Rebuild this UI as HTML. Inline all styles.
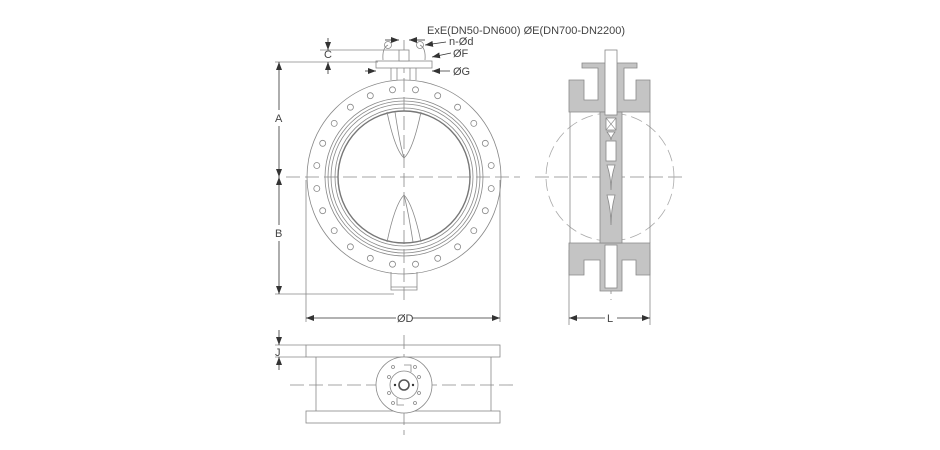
<!DOCTYPE html>
<html><head><meta charset="utf-8"><style>
html,body{margin:0;padding:0;background:#fff;}
svg{display:block;}
text{font-family:"Liberation Sans",sans-serif;fill:#444;}
</style></head><body>
<svg width="940" height="450" viewBox="0 0 940 450" xmlns="http://www.w3.org/2000/svg">
<defs>
<marker id="ar" markerWidth="8" markerHeight="6" refX="8" refY="3" orient="auto" markerUnits="userSpaceOnUse"><path d="M0,0 L8,3 L0,6z" fill="#333"/></marker>
</defs>
<g stroke="#888" stroke-width="0.8" fill="none">
<line x1="286" y1="177" x2="520" y2="177" stroke-dasharray="14,5"/>
<line x1="404" y1="40" x2="404" y2="300" stroke-dasharray="14,5"/>
<line x1="535" y1="177" x2="685" y2="177" stroke-dasharray="14,5"/>
<line x1="611" y1="52" x2="611" y2="300" stroke-dasharray="14,5"/>
<line x1="290" y1="385" x2="515" y2="385" stroke-dasharray="14,5"/>
<line x1="404" y1="335" x2="404" y2="435" stroke-dasharray="14,5"/>
<circle cx="404" cy="177" r="97"/>
<circle cx="404" cy="177" r="79"/>
<circle cx="404" cy="177" r="76"/>
<circle cx="404" cy="177" r="73"/>
<circle cx="404" cy="177" r="69"/>
<circle cx="404" cy="177" r="66" stroke-width="1.4" stroke="#777"/>
<path d="M387,112 Q395,150 404,158 Q413,150 421,112"/>
<path d="M395,112 Q400,145 404,158"/>
<path d="M387,242 Q395,204 404,195 Q413,204 421,242"/>
<path d="M413,242 Q408,210 404,195"/>
<rect x="376" y="61" width="56" height="7" fill="#fff"/>
<rect x="399" y="50" width="10" height="11" fill="#fff"/>
<line x1="391" y1="68" x2="391" y2="80"/><line x1="397" y1="68" x2="397" y2="80"/>
<line x1="410" y1="68" x2="410" y2="80"/><line x1="416" y1="68" x2="416" y2="80"/>
<circle cx="388" cy="45" r="3.5"/><circle cx="420" cy="45" r="3.5"/>
<path d="M383,60 Q382,48 388,45"/><path d="M425,60 Q426,48 420,45"/>
<path d="M391,272 L391,290 L417,290 L417,272"/>
<line x1="391" y1="287" x2="417" y2="287"/>
<line x1="275" y1="62" x2="378" y2="62"/>
<line x1="275" y1="294" x2="394" y2="294"/>
<line x1="320" y1="50" x2="399" y2="50"/>
<line x1="306" y1="180" x2="306" y2="322"/>
<line x1="500" y1="180" x2="500" y2="322"/>
<circle cx="610" cy="177" r="64" stroke-dasharray="12,5" stroke="#aaa"/>
<line x1="570" y1="112" x2="570" y2="243"/><line x1="650" y1="112" x2="650" y2="243"/>
<line x1="569" y1="250" x2="569" y2="325"/><line x1="650" y1="250" x2="650" y2="325"/>
</g>
<g stroke="#888" stroke-width="0.8" fill="none">
<circle cx="491.2" cy="188.5" r="3"/><circle cx="491.2" cy="165.5" r="3"/>
<circle cx="485.3" cy="210.7" r="3"/><circle cx="485.3" cy="143.3" r="3"/>
<circle cx="473.8" cy="230.6" r="3"/><circle cx="473.8" cy="123.4" r="3"/>
<circle cx="457.6" cy="246.8" r="3"/><circle cx="457.6" cy="107.2" r="3"/>
<circle cx="437.7" cy="258.3" r="3"/><circle cx="437.7" cy="95.7" r="3"/>
<circle cx="415.5" cy="264.2" r="3"/><circle cx="415.5" cy="89.8" r="3"/>
<circle cx="316.8" cy="188.5" r="3"/><circle cx="316.8" cy="165.5" r="3"/>
<circle cx="322.7" cy="210.7" r="3"/><circle cx="322.7" cy="143.3" r="3"/>
<circle cx="334.2" cy="230.6" r="3"/><circle cx="334.2" cy="123.4" r="3"/>
<circle cx="350.4" cy="246.8" r="3"/><circle cx="350.4" cy="107.2" r="3"/>
<circle cx="370.3" cy="258.3" r="3"/><circle cx="370.3" cy="95.7" r="3"/>
<circle cx="392.5" cy="264.2" r="3"/><circle cx="392.5" cy="89.8" r="3"/>
</g>
<g fill="#c4c4c4" stroke="#888" stroke-width="0.8">
<path d="M569,80 L584,80 L584,100 L598,100 L598,68 L582,68 L582,63 L637,63 L637,68 L624,68 L624,100 L636,100 L636,80 L650,80 L650,112 L569,112 Z"/>
<path d="M569,243 L650,243 L650,275 L636,275 L636,260 L622,260 L622,291 L600,291 L600,260 L584,260 L584,275 L569,275 Z"/>
<rect x="600" y="112" width="22" height="131"/>
</g>
<g fill="#fff" stroke="#888" stroke-width="0.8">
<rect x="605" y="50" width="12" height="65"/>
<rect x="605" y="245" width="12" height="43"/>
<rect x="606" y="141" width="10" height="20"/>
<path d="M606,118 L616,118 L616,130 L606,130 Z"/>
<path d="M607,165 Q611,177 611,190 Q611,177 615,165 Z"/>
<path d="M607,132 Q611,137 611,140 Q611,137 615,132 Z"/>
<path d="M607,195 Q611,210 611,225 Q611,210 615,195 Z"/>
</g>
<g stroke="#888" stroke-width="0.6"><line x1="606" y1="118" x2="616" y2="130"/><line x1="616" y1="118" x2="606" y2="130"/></g>
<g stroke="#888" stroke-width="0.8" fill="none">
<rect x="306" y="345" width="194" height="12"/>
<rect x="306" y="411" width="194" height="12"/>
<line x1="316" y1="357" x2="316" y2="411"/><line x1="491" y1="357" x2="491" y2="411"/>
<circle cx="404" cy="385" r="28" fill="#fff"/>
<circle cx="404" cy="385" r="14"/>
<circle cx="404" cy="385" r="5" stroke-width="1.6" stroke="#555"/>
<path d="M404,365 L411,365 L411,372"/><path d="M404,405 L397,405 L397,398"/>
<circle cx="393" cy="367" r="1.5"/><circle cx="415" cy="367" r="1.5"/><circle cx="389" cy="377" r="1.5"/><circle cx="419" cy="377" r="1.5"/><circle cx="389" cy="393" r="1.5"/><circle cx="419" cy="393" r="1.5"/><circle cx="393" cy="403" r="1.5"/><circle cx="415" cy="403" r="1.5"/>
<line x1="275" y1="345" x2="306" y2="345"/><line x1="275" y1="357" x2="306" y2="357"/>
</g>
<circle cx="395" cy="385" r="1.2" fill="#333"/><circle cx="413" cy="385" r="1.2" fill="#333"/>
<g stroke="#333" stroke-width="0.8" fill="none">
<line x1="279" y1="110" x2="279" y2="62" marker-end="url(#ar)"/>
<line x1="279" y1="126" x2="279" y2="177" marker-end="url(#ar)"/>
<line x1="279" y1="225" x2="279" y2="177" marker-end="url(#ar)"/>
<line x1="279" y1="241" x2="279" y2="294" marker-end="url(#ar)"/>
<line x1="328" y1="38" x2="328" y2="50" marker-end="url(#ar)"/>
<line x1="328" y1="74" x2="328" y2="62" marker-end="url(#ar)"/>
<line x1="279" y1="330" x2="279" y2="345" marker-end="url(#ar)"/>
<line x1="279" y1="370" x2="279" y2="357" marker-end="url(#ar)"/>
<line x1="396" y1="318" x2="306" y2="318" marker-end="url(#ar)"/>
<line x1="412" y1="318" x2="500" y2="318" marker-end="url(#ar)"/>
<line x1="605" y1="318" x2="569" y2="318" marker-end="url(#ar)"/>
<line x1="617" y1="318" x2="650" y2="318" marker-end="url(#ar)"/>
<line x1="385" y1="40" x2="399" y2="40" marker-end="url(#ar)"/>
<line x1="425" y1="40" x2="409" y2="40" marker-end="url(#ar)"/>
<line x1="446" y1="42" x2="425" y2="45" marker-end="url(#ar)"/>
<line x1="451" y1="53" x2="432" y2="57" marker-end="url(#ar)"/>
<line x1="365" y1="71" x2="376" y2="71" marker-end="url(#ar)"/>
<line x1="450" y1="71" x2="432" y2="71" marker-end="url(#ar)"/>
</g>
<g font-size="11">
<text x="427" y="34">ExE(DN50-DN600) ØE(DN700-DN2200)</text>
<text x="449" y="45">n-Ød</text>
<text x="453" y="57">ØF</text>
<text x="453" y="75">ØG</text>
<text x="275" y="122">A</text>
<text x="275" y="237">B</text>
<text x="324" y="58">C</text>
<text x="275" y="356">J</text>
<text x="397" y="322">ØD</text>
<text x="607" y="322">L</text>
</g>
</svg>
</body></html>
